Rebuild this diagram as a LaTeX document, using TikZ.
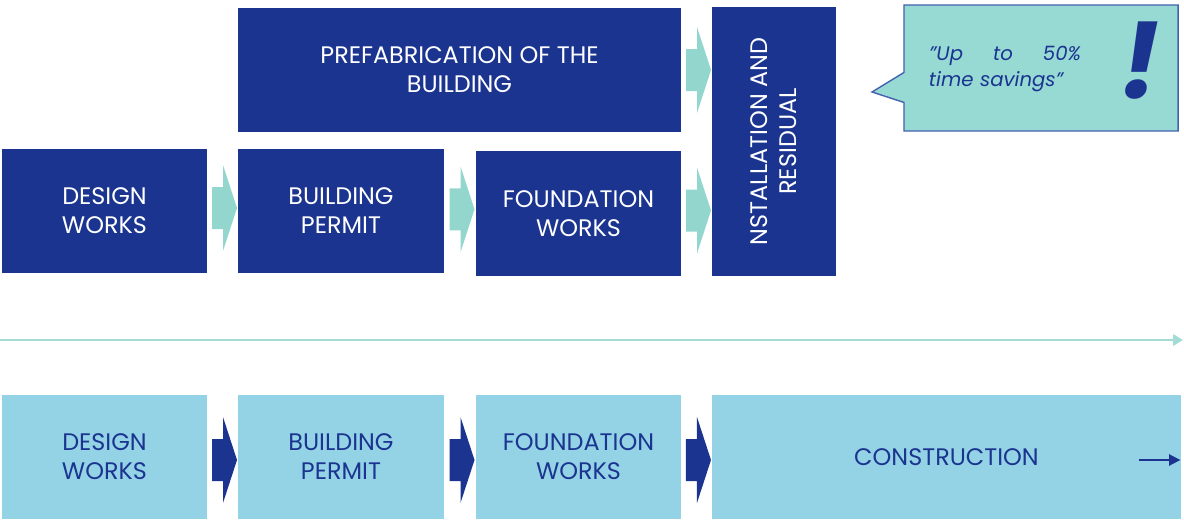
\documentclass[tikz,border=0pt]{standalone}
\usepackage{fontspec}
\setmainfont{Poppins}
\usepackage{xcolor}
\usepackage{tikz}
\usetikzlibrary{calc,arrows.meta,shapes.callouts}
\definecolor{PlanBlue}{HTML}{1B3490}
\definecolor{PlanTeal}{HTML}{93D6CE}
\definecolor{PlanSky}{HTML}{94D3E6}
\definecolor{NoteFill}{HTML}{97D9D3}
\definecolor{NoteLine}{HTML}{4562AE}

\begin{document}
\begin{tikzpicture}[
  x=0.025cm, y=-0.025cm,
  fast/.style={rectangle, fill=PlanBlue, text=white, minimum height=3.1cm, align=center, inner sep=2pt, font=\fontsize{17}{20.6}\selectfont},
  slow/.style={rectangle, fill=PlanSky, text=PlanBlue, minimum height=3.1cm, align=center, inner sep=2pt, font=\fontsize{17}{20.6}\selectfont},
  timeline/.style={-{Triangle[length=7pt,width=8pt]}, line width=1.6pt, PlanTeal!85},
  fatarrow/.pic={\fill (-12.5,-21) -- (-1.5,-21) -- (-1.5,-43) -- (12.5,0) -- (-1.5,43) -- (-1.5,21) -- (-12.5,21) -- cycle;}
]
\useasboundingbox (0,0) rectangle (1184,521);

% Prefabricated route
\node[fast, minimum width=11.075cm] (pre) at (459.5,70) {PREFABRICATION OF THE\\BUILDING};
\node[fast, minimum width=3.1cm, minimum height=6.725cm] (ins) at (774,141.5) {};
\node[rotate=90, text=white, align=center, font=\fontsize{17}{20.6}\selectfont] (instext) at (ins.center) {NSTALLATION AND\\RESIDUAL};
\node[fast, minimum width=5.125cm] (des1) at (104.5,211) {DESIGN\\WORKS};
\node[fast, minimum width=5.15cm] (per1) at (341,211) {BUILDING\\PERMIT};
\node[fast, minimum width=5.125cm, minimum height=3.125cm] (fou1) at (578.5,213.5) {FOUNDATION\\WORKS};

% Arrows between the steps
\pic[fill=PlanTeal] at ($(des1.east)!0.5!(per1.west)+(2,-3)$) {fatarrow};
\pic[fill=PlanTeal] at ($(per1.east)!0.5!(fou1.west)+(2,-3)$) {fatarrow};
\pic[fill=PlanTeal] at ($(pre.east)!0.5!(ins.west |- pre.east)+(2,0)$) {fatarrow};
\pic[fill=PlanTeal] at ($(fou1.east)!0.5!(ins.west |- fou1.east)+(2,-3)$) {fatarrow};

% Speech bubble
\node[rectangle callout, callout absolute pointer={(872,92)}, callout pointer width=0.75cm,
  fill=NoteFill, draw=NoteLine, line width=1pt, minimum width=6.85cm, minimum height=3.15cm] (note) at (1041,68) {};
\node[text width=3.8cm, align=left, text=PlanBlue, font=\fontsize{14}{18.5}\selectfont\itshape] (quote) at (1005,69)
  {\char34 Up\hfill to\hfill 50\%\\time savings\char34};
\node[text=PlanBlue, font=\fontsize{75}{75}\selectfont\bfseries\itshape] (bang) at (1140,61) {!};

% Time axis
\coordinate (t0) at (0,340);
\coordinate (t1) at (1183,340);
\draw[timeline] (t0) -- (t1);

% Conventional route
\node[slow, minimum width=5.125cm] (des2) at (104.5,457) {DESIGN\\WORKS};
\node[slow, minimum width=5.15cm] (per2) at (341,457) {BUILDING\\PERMIT};
\node[slow, minimum width=5.125cm] (fou2) at (578.5,457) {FOUNDATION\\WORKS};
\node[slow, minimum width=11.725cm] (con) at (946.5,457) {CONSTRUCTION};

\pic[fill=PlanBlue] at ($(des2.east)!0.5!(per2.west)+(2,3)$) {fatarrow};
\pic[fill=PlanBlue] at ($(per2.east)!0.5!(fou2.west)+(2,3)$) {fatarrow};
\pic[fill=PlanBlue] at ($(fou2.east)!0.5!(con.west)+(2,3)$) {fatarrow};

\coordinate (c0) at ($(con.east)+(-42,3)$);
\coordinate (c1) at ($(con.east)+(-1,3)$);
\draw[-{Triangle[length=8pt,width=8pt]}, line width=1.2pt, PlanBlue] (c0) -- (c1);

\end{tikzpicture}
\end{document}
